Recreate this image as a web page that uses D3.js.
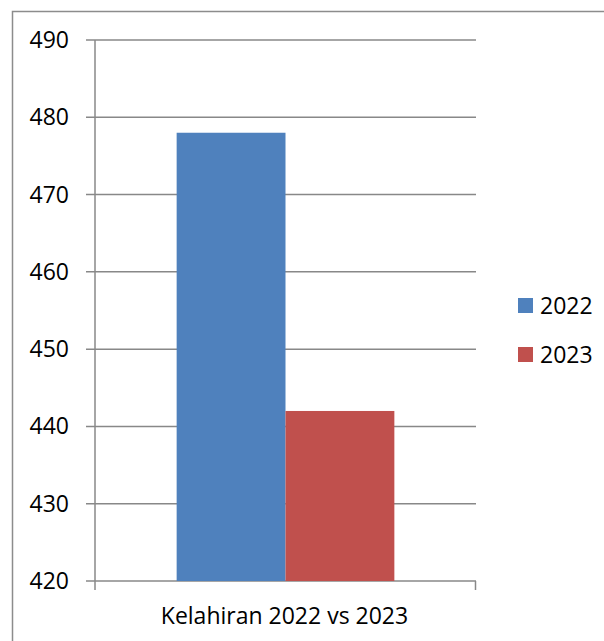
<!DOCTYPE html>
<html>
<head>
<meta charset="utf-8">
<script src="https://cdn.jsdelivr.net/npm/d3@7"></script>
<style>
  body { margin: 0; background: #fff; }
  svg text { font-family: "Open Sans", "Noto Sans", sans-serif; fill: #000; }
</style>
</head>
<body>
<div class="chart"></div>
<script>
// chart values
var categories = ["Kelahiran 2022 vs 2023"];
var seriesNames = ["2022", "2023"];
var seriesValues = [478, 442];
var seriesColors = ["#4F81BD", "#C0504D"];
var yTicks = [420, 430, 440, 450, 460, 470, 480, 490];

var width = 604, height = 641;
var plot = { left: 95, right: 476, top: 40, bottom: 581 };

var svg = d3.select('div.chart')
    .append('svg')
    .attr('width', width)
    .attr('height', height);

// outer frame (cropped on the right and bottom)
svg.append('rect')
    .attr('x', 12.5).attr('y', 11.5)
    .attr('width', 700).attr('height', 700)
    .attr('fill', 'none')
    .attr('stroke', '#8c8c8c')
    .attr('stroke-width', 1.5);

var x = d3.scaleBand()
    .domain(categories)
    .range([plot.left, plot.right]);

// bars inside the category band
var xs = d3.scaleBand()
    .domain(seriesNames)
    .range([0, x.bandwidth()])
    .paddingInner(0)
    .paddingOuter(0.75);

var y = d3.scaleLinear()
    .domain([420, 490])
    .range([plot.bottom, plot.top]);

// gridlines
svg.append('g')
    .selectAll('line')
    .data(yTicks)
    .enter()
    .append('line')
    .attr('x1', plot.left - 9)
    .attr('x2', plot.right)
    .attr('y1', function (d) { return y(d); })
    .attr('y2', function (d) { return y(d); })
    .attr('stroke', '#888')
    .attr('stroke-width', 1.5);

// bars
var data = seriesNames.map(function (s, i) {
    return { cat: categories[0], name: s, value: seriesValues[i], color: seriesColors[i] };
});

svg.append('g')
    .selectAll('rect')
    .data(data)
    .enter()
    .append('rect')
    .attr('x', function (d) { return x(d.cat) + xs(d.name); })
    .attr('y', function (d) { return y(d.value); })
    .attr('width', xs.bandwidth())
    .attr('height', function (d) { return y(420) - y(d.value); })
    .attr('fill', function (d) { return d.color; });

// y axis line
svg.append('line')
    .attr('x1', plot.left).attr('x2', plot.left)
    .attr('y1', plot.top).attr('y2', plot.bottom + 9)
    .attr('stroke', '#888').attr('stroke-width', 1.5);

// x axis tick at right end
svg.append('line')
    .attr('x1', plot.right - 0.5).attr('x2', plot.right - 0.5)
    .attr('y1', plot.bottom).attr('y2', plot.bottom + 9)
    .attr('stroke', '#888').attr('stroke-width', 1.5);

// y tick labels
svg.append('g')
    .selectAll('text')
    .data(yTicks)
    .enter()
    .append('text')
    .attr('x', 69)
    .attr('y', function (d) { return y(d); })
    .attr('dy', '0.35em')
    .attr('text-anchor', 'end')
    .style('font-size', '23px')
    .text(function (d) { return d; });

// category label
svg.append('g')
    .selectAll('text')
    .data(categories)
    .enter()
    .append('text')
    .attr('x', function (d) { return x(d) + x.bandwidth() / 2 - 1; })
    .attr('y', 624)
    .attr('text-anchor', 'middle')
    .style('font-size', '23px')
    .text(function (d) { return d; });

// legend
var legend = svg.append('g')
    .selectAll('g')
    .data(data)
    .enter()
    .append('g')
    .attr('transform', function (d, i) { return 'translate(518,' + (298 + i * 49) + ')'; });

legend.append('rect')
    .attr('width', 15).attr('height', 15)
    .attr('fill', function (d) { return d.color; });

legend.append('text')
    .attr('x', 22)
    .attr('y', 16)
    .style('font-size', '23px')
    .text(function (d) { return d.name; });
</script>
</body>
</html>
